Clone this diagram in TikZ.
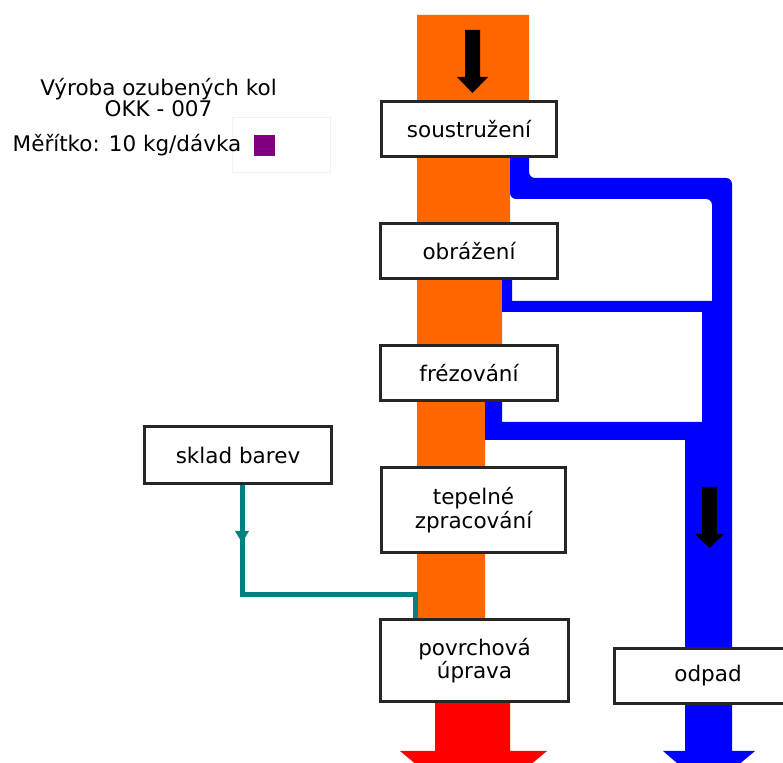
\documentclass[tikz,border=0pt]{standalone}
\usepackage{fontspec}
\setmainfont{DejaVu Sans}
\usepackage{xcolor}
\usetikzlibrary{positioning, arrows.meta, decorations.markings}
\definecolor{flowOrange}{RGB}{255, 102, 0}
\definecolor{flowBlue}{RGB}{0, 0, 255}
\definecolor{flowRed}{RGB}{255, 0, 0}
\definecolor{flowTeal}{RGB}{0, 128, 128}
\definecolor{legendPurple}{RGB}{128, 0, 128}

\begin{document}
\begin{tikzpicture}[x=0.5pt, y=-0.5pt, node distance=32pt,
  every node/.style={font=\fontsize{10.75}{10.5}\selectfont},
  opbox/.style={rectangle, draw=black!85, line width=1.5pt, fill=white,
                minimum width=87.5pt, minimum height=27.5pt,
                align=center, inner sep=2pt},
  band/.style={rounded corners=3pt}]

\clip (0,0) rectangle (783,763);

% Main material flow
\fill[flowOrange] (417,15) -- (529,15) -- (529,160) -- (510,160)
      -- (510,282) -- (502,282) -- (502,406) -- (485,406)
      -- (485,640) -- (417,640) -- cycle;

% Waste flows
\fill[flowBlue, band] (510,150) -- (529,150) -- (529,178) -- (732,178)
      -- (732,660) -- (712,660) -- (712,199) -- (510,199) -- cycle;
\fill[flowBlue] (502,270) -- (512,270) -- (512,301) -- (712,301)
      -- (712,660) -- (702,660) -- (702,312) -- (502,312) -- cycle;
\fill[flowBlue] (485,395) -- (502,395) -- (502,422) -- (702,422)
      -- (702,660) -- (685,660) -- (685,440) -- (485,440) -- cycle;

% Output arrows
\fill[flowRed] (435,700) -- (510,700) -- (510,751) -- (547,751)
      -- (473.5,812) -- (400,751) -- (435,751) -- cycle;
\fill[flowBlue] (685,700) -- (732,700) -- (732,751) -- (755,751)
      -- (708.5,790) -- (663,751) -- (685,751) -- cycle;

% Direction marks
\fill[black] (465,30) -- (480,30) -- (480,77) -- (488,77)
      -- (472.5,93) -- (457,77) -- (465,77) -- cycle;
\fill[black] (702,487) -- (717,487) -- (717,534) -- (724,534)
      -- (709.5,548) -- (695,534) -- (702,534) -- cycle;

% Process steps
\node[opbox] (soust) at (469,129) {soustružení};
\node[opbox, below=of soust, minimum width=88.5pt] (obraz) {obrážení};
\node[opbox, below=of obraz, minimum width=88.5pt] (frez) {frézování};
\node[opbox, below=of frez, xshift=2.25pt,
      minimum width=92pt, minimum height=42.5pt] (tepel) {tepelné\\zpracování};
\node[opbox, below=of tepel, xshift=0.5pt,
      minimum width=94pt, minimum height=41pt] (povrch) {povrchová\\úprava};
\node[opbox, minimum width=93.5pt] (odpad) at (708,676) {odpad};
\node[opbox, minimum width=93.5pt, minimum height=28.5pt] (sklad) at (238,455) {sklad barev};

% Paint supply
\coordinate (paintin) at (415,595);
\draw[flowTeal, line width=2.5pt,
      postaction={decorate},
      decoration={markings, mark=at position 29pt with
                  {\arrow{Triangle[width=6.5pt, length=6pt]}}}]
      ([xshift=2pt]sklad.south) |- (paintin) -- (paintin |- povrch.north);

% Legend
\draw[black!5] (232,117) rectangle (330,172);
\node[anchor=base] (title) at (158.5,96) {Výroba ozubených kol};
\node[anchor=base] (code) at (158.5,117) {OKK - 007};
\node[anchor=base] (scale) at (127,152) {Měřítko: 10 kg/dávka};
\node[fill=legendPurple, minimum size=10.5pt, inner sep=0pt] (scalemark) at (264,145.5) {};

\end{tikzpicture}
\end{document}
